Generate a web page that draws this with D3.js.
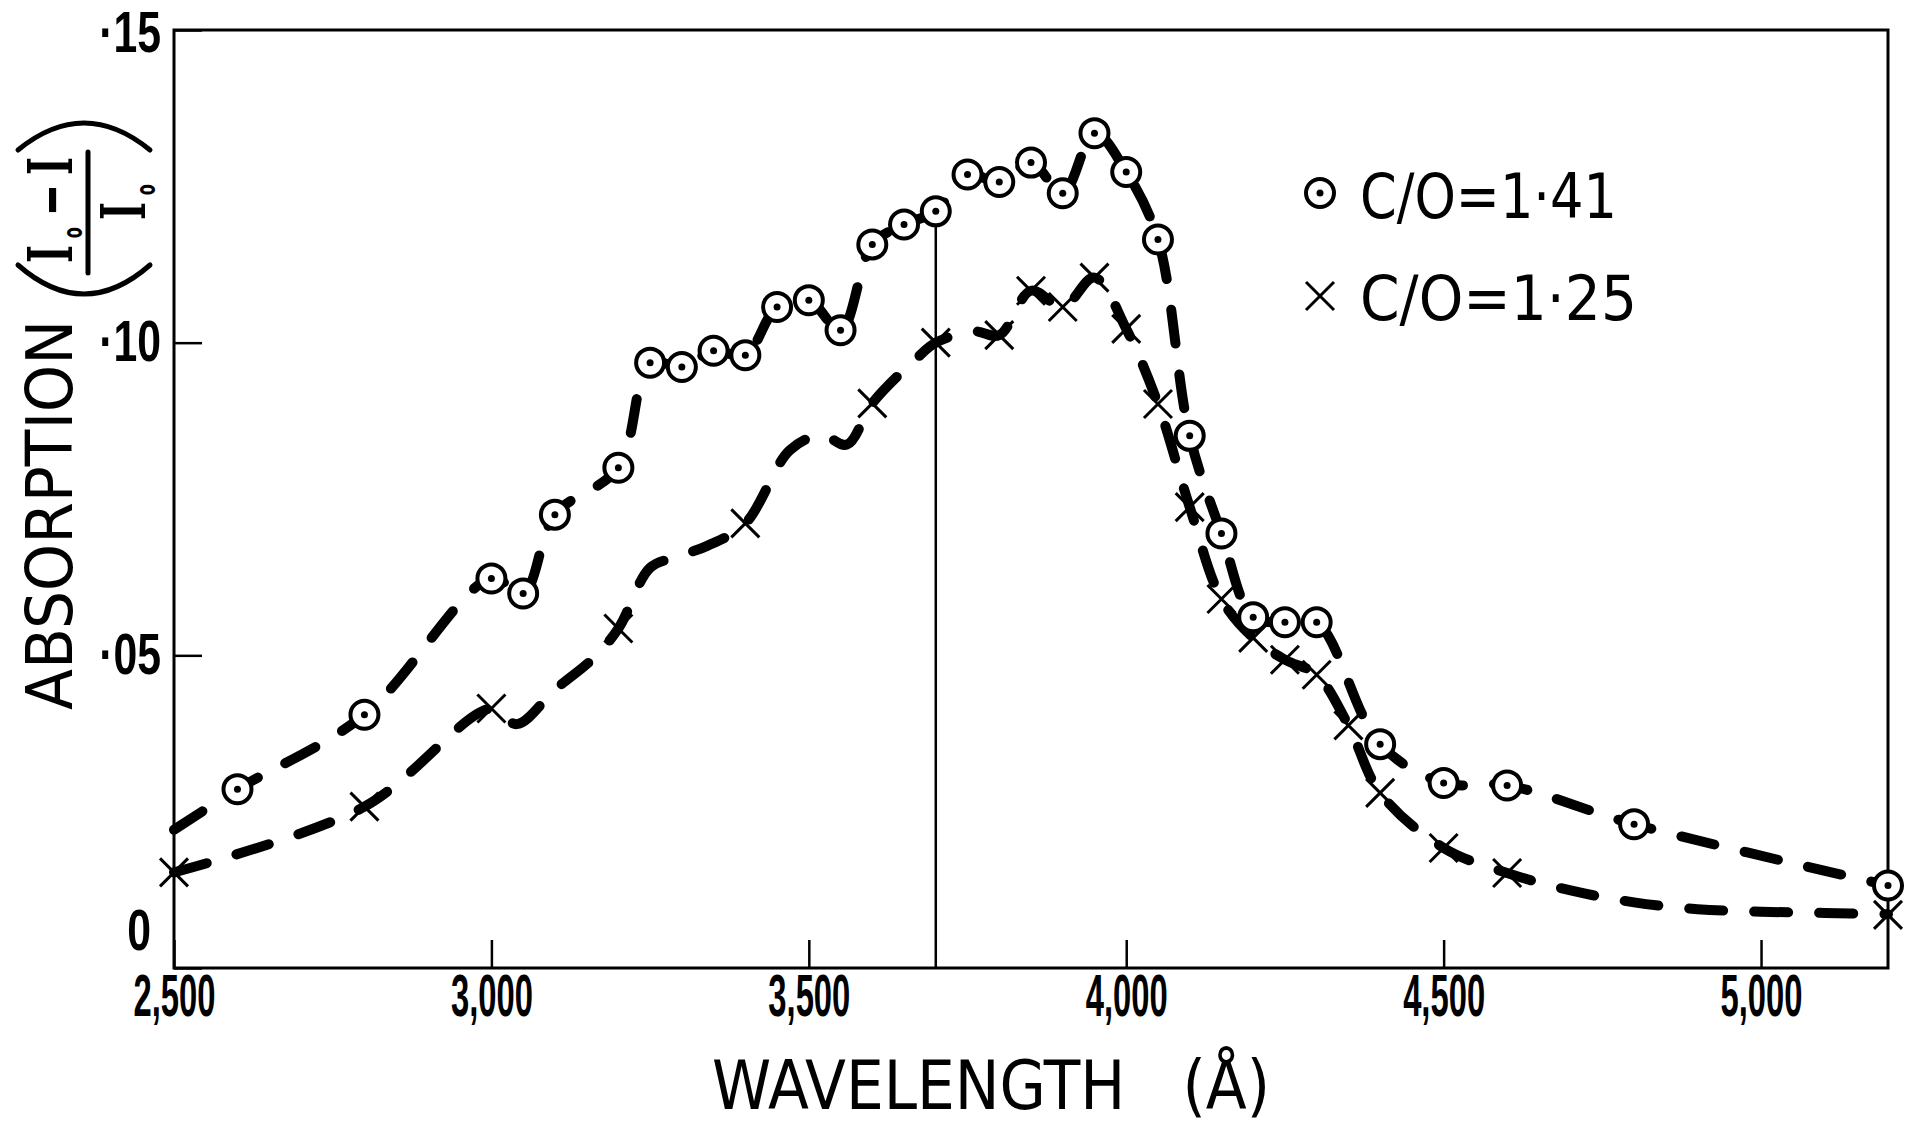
<!DOCTYPE html>
<html>
<head>
<meta charset="utf-8">
<script src="https://cdnjs.cloudflare.com/ajax/libs/d3/7.8.5/d3.min.js"></script>
<style>
  html, body { margin: 0; padding: 0; background: #fff; }
  svg { display: block; }
  text { font-family: "DejaVu Sans", "Liberation Sans", sans-serif; fill: #000; }
  .axis text { font-family: "Liberation Sans", "DejaVu Sans", sans-serif; font-weight: bold; }
</style>
</head>
<body>
<svg id="chart" width="1914" height="1127"></svg>
<script>
// ---- data (wavelength in Å, absorption (I0-I)/I0) ----
const xTicks = [2500, 3000, 3500, 4000, 4500, 5000];
const yTicks = [0, 0.05, 0.10, 0.15];

// C/O = 1.41 (circles)
const circleWavelengths = [2600, 2800, 3000, 3050, 3100, 3200, 3250, 3300, 3350, 3400,
    3450, 3500, 3550, 3600, 3650, 3700, 3750, 3800, 3850, 3900,
    3950, 4000, 4050, 4100, 4150, 4200, 4250, 4300, 4400, 4500,
    4600, 4800, 5200];
const circleValues = [0.0286, 0.0405, 0.0623, 0.0599, 0.0725, 0.0800, 0.0968, 0.0961, 0.0987, 0.0980,
    0.1057, 0.1068, 0.1020, 0.1157, 0.1189, 0.1210, 0.1269, 0.1257, 0.1288, 0.1239,
    0.1335, 0.1273, 0.1165, 0.0851, 0.0695, 0.0561, 0.0553, 0.0553, 0.0358, 0.0296,
    0.0292, 0.0230, 0.0132];
// the dashed curve starts on the axis, before the first circle
const circleCurveStart = [2500, 0.0221];

// C/O = 1.25 (crosses)
const crossWavelengths = [2500, 2800, 3000, 3200, 3400, 3600, 3700, 3800, 3850, 3900,
    3950, 4000, 4050, 4100, 4150, 4200, 4250, 4300, 4350, 4400,
    4500, 4600, 5200];
const crossValues = [0.0153, 0.0258, 0.0415, 0.0543, 0.0711, 0.0903, 0.1000, 0.1012, 0.1083, 0.1057,
    0.1104, 0.1022, 0.0902, 0.0737, 0.0590, 0.0528, 0.0493, 0.0469, 0.0388, 0.0280,
    0.0192, 0.0152, 0.0085];
// hand drawn curve for the crosses, wiggles included
const crossCurveWavelengths = [2500, 2800, 3000, 3040, 3100, 3160, 3200, 3250, 3290, 3340,
    3400, 3470, 3520, 3560, 3600, 3670, 3700, 3760, 3800, 3850,
    3900, 3950, 4000, 4050, 4100, 4150, 4200, 4250, 4300, 4350,
    4400, 4500, 4600, 4700, 4800, 4900, 5000, 5100, 5200];
const crossCurveValues = [0.0153, 0.0258, 0.0415, 0.0390, 0.0445, 0.0495, 0.0543, 0.0640, 0.0657, 0.0675,
    0.0711, 0.0828, 0.0852, 0.0837, 0.0903, 0.0975, 0.1000, 0.1018, 0.1012, 0.1083,
    0.1057, 0.1104, 0.1022, 0.0902, 0.0737, 0.0590, 0.0528, 0.0493, 0.0469, 0.0388,
    0.0280, 0.0192, 0.0152, 0.0124, 0.0105, 0.0094, 0.0090, 0.0088, 0.0086];

const markLine = 3700; // thin vertical line up to the circle at 3700 Å
const legendLabels = ['C/O=1·41', 'C/O=1·25'];

// ---- layout ----
const WIDTH = 1914;
const HEIGHT = 1127;
const MARGIN = { top: 30, right: 26, bottom: 159, left: 174 };
const innerW = WIDTH - MARGIN.left - MARGIN.right;
const innerH = HEIGHT - MARGIN.top - MARGIN.bottom;

const $svg = d3.select('#chart');
const $g = $svg.append('g').attr('transform', `translate(${MARGIN.left},${MARGIN.top})`);

const x = d3.scaleLinear().domain([2500, 5200]).range([0, innerW]);
const y = d3.scaleLinear().domain([0, 0.15]).range([innerH, 0]);

function squeeze(sel, k) {
    sel.each(function () {
        const w = this.getComputedTextLength();
        d3.select(this).attr('textLength', w * k).attr('lengthAdjust', 'spacingAndGlyphs');
    });
}

// x axis, ticks pointing inwards
const $xAxis = $g.append('g')
    .attr('class', 'x axis')
    .attr('transform', `translate(0,${innerH})`)
    .call(d3.axisBottom(x)
        .tickValues(xTicks)
        .tickSize(-28)
        .tickPadding(5)
        .tickFormat(d3.format(',')));

// y axis
const $yAxis = $g.append('g')
    .attr('class', 'y axis')
    .call(d3.axisLeft(y)
        .tickValues(yTicks)
        .tickSize(-28)
        .tickPadding(13)
        .tickFormat(d => d === 0 ? '0' : '·' + d3.format('.2f')(d).slice(2)));

$g.selectAll('.axis .domain').remove();
$g.selectAll('.axis line').attr('stroke', '#000').attr('stroke-width', 2.5);
$xAxis.selectAll('text').attr('font-size', 60).attr('fill', '#000')
    .attr('textLength', 82).attr('lengthAdjust', 'spacingAndGlyphs');
$yAxis.selectAll('text').attr('font-size', 57).attr('fill', '#000');
$yAxis.selectAll('.tick').filter(d => d === 0).select('text').attr('y', -37).attr('x', -23);
$yAxis.selectAll('.tick').filter(d => d === 0.15).select('text').attr('y', 3);
squeeze($yAxis.selectAll('text'), 0.75);

// frame
$g.append('rect')
    .attr('x', 0).attr('y', 0)
    .attr('width', innerW).attr('height', innerH)
    .attr('fill', 'none')
    .attr('stroke', '#000')
    .attr('stroke-width', 3);

// vertical line at 3700
const markIdx = circleWavelengths.indexOf(markLine);
$g.append('line')
    .attr('x1', x(markLine)).attr('x2', x(markLine))
    .attr('y1', y(0)).attr('y2', y(circleValues[markIdx]))
    .attr('stroke', '#000')
    .attr('stroke-width', 2.5);

// dashed curves
const line = d3.line()
    .x(d => x(d[0]))
    .y(d => y(d[1]))
    .curve(d3.curveCatmullRom.alpha(0.5));

const circleCurve = [circleCurveStart].concat(circleWavelengths.map((w, i) => [w, circleValues[i]]));
const crossCurve = crossCurveWavelengths.map((w, i) => [w, crossCurveValues[i]]);

$g.selectAll('.curve')
    .data([circleCurve, crossCurve])
    .enter().append('path')
    .attr('class', 'curve')
    .attr('d', line)
    .attr('fill', 'none')
    .attr('stroke', '#000')
    .attr('stroke-width', 10)
    .attr('stroke-linecap', 'round')
    .attr('stroke-dasharray', '34 31');

// markers
function drawCircle(sel) {
    sel.append('circle').attr('r', 14).attr('fill', '#fff').attr('stroke', '#000').attr('stroke-width', 4);
    sel.append('circle').attr('r', 3.5).attr('fill', '#000');
}
function drawCross(sel) {
    sel.append('path')
        .attr('d', 'M-14,-14L14,14M14,-14L-14,14')
        .attr('stroke', '#000')
        .attr('stroke-width', 3)
        .attr('fill', 'none');
}

$g.selectAll('.cross')
    .data(crossWavelengths.map((w, i) => [w, crossValues[i]]))
    .enter().append('g')
    .attr('class', 'cross')
    .attr('transform', d => `translate(${x(d[0])},${y(d[1])})`)
    .call(drawCross);

$g.selectAll('.dot')
    .data(circleWavelengths.map((w, i) => [w, circleValues[i]]))
    .enter().append('g')
    .attr('class', 'dot')
    .attr('transform', d => `translate(${x(d[0])},${y(d[1])})`)
    .call(drawCircle);

// legend
const $legend = $svg.append('g').attr('class', 'legend');
const legendRows = [
    { label: legendLabels[0], draw: drawCircle, my: 193, ty: 218, len: 257 },
    { label: legendLabels[1], draw: drawCross, my: 296, ty: 320, len: 277 }
];
legendRows.forEach(r => {
    $legend.append('g').attr('transform', `translate(1320,${r.my})`).call(r.draw);
    $legend.append('text')
        .attr('x', 1360).attr('y', r.ty)
        .attr('font-size', 62)
        .attr('textLength', r.len)
        .attr('lengthAdjust', 'spacingAndGlyphs')
        .text(r.label);
});

// x title
$svg.append('text')
    .attr('x', 712).attr('y', 1109)
    .attr('font-size', 68)
    .attr('textLength', 558).attr('lengthAdjust', 'spacingAndGlyphs')
    .style('white-space', 'pre')
    .text('WAVELENGTH   (Å)');

// y title: ABSORPTION ((I0 - I)/I0)
const $yTitle = $svg.append('g').attr('class', 'y-title');
$yTitle.append('text')
    .attr('transform', 'translate(72,710) rotate(-90)')
    .attr('font-size', 64)
    .attr('textLength', 390).attr('lengthAdjust', 'spacingAndGlyphs')
    .text('ABSORPTION');

const serif = '"DejaVu Serif", "Liberation Serif", serif';
const sans = '"DejaVu Sans", sans-serif';

const num = $yTitle.append('text')
    .attr('transform', 'translate(72,263) rotate(-90) scale(0.62,1)')
    .attr('font-size', 62)
    .style('font-weight', 'bold');
num.append('tspan').attr('x', 0).attr('y', 0).style('font-family', serif).text('I');
num.append('tspan').attr('x', 40).attr('y', 10).attr('font-size', 26).style('font-family', sans).text('o');
num.append('tspan').attr('x', 76).attr('y', 0).style('font-family', sans).text('−');
num.append('tspan').attr('x', 142).attr('y', 0).style('font-family', serif).text('I');

const den = $yTitle.append('text')
    .attr('transform', 'translate(145,220) rotate(-90) scale(0.62,1)')
    .attr('font-size', 62)
    .style('font-weight', 'bold');
den.append('tspan').attr('x', 0).attr('y', 0).style('font-family', serif).text('I');
den.append('tspan').attr('x', 40).attr('y', 10).attr('font-size', 26).style('font-family', sans).text('o');

$yTitle.append('line')
    .attr('x1', 88).attr('x2', 88).attr('y1', 152).attr('y2', 273)
    .attr('stroke', '#000').attr('stroke-width', 5).attr('stroke-linecap', 'round');
$yTitle.append('path')
    .attr('d', 'M18,150Q84,96 150,150')
    .attr('fill', 'none').attr('stroke', '#000').attr('stroke-width', 5).attr('stroke-linecap', 'round');
$yTitle.append('path')
    .attr('d', 'M18,265Q84,323 150,265')
    .attr('fill', 'none').attr('stroke', '#000').attr('stroke-width', 5).attr('stroke-linecap', 'round');
</script>
</body>
</html>
